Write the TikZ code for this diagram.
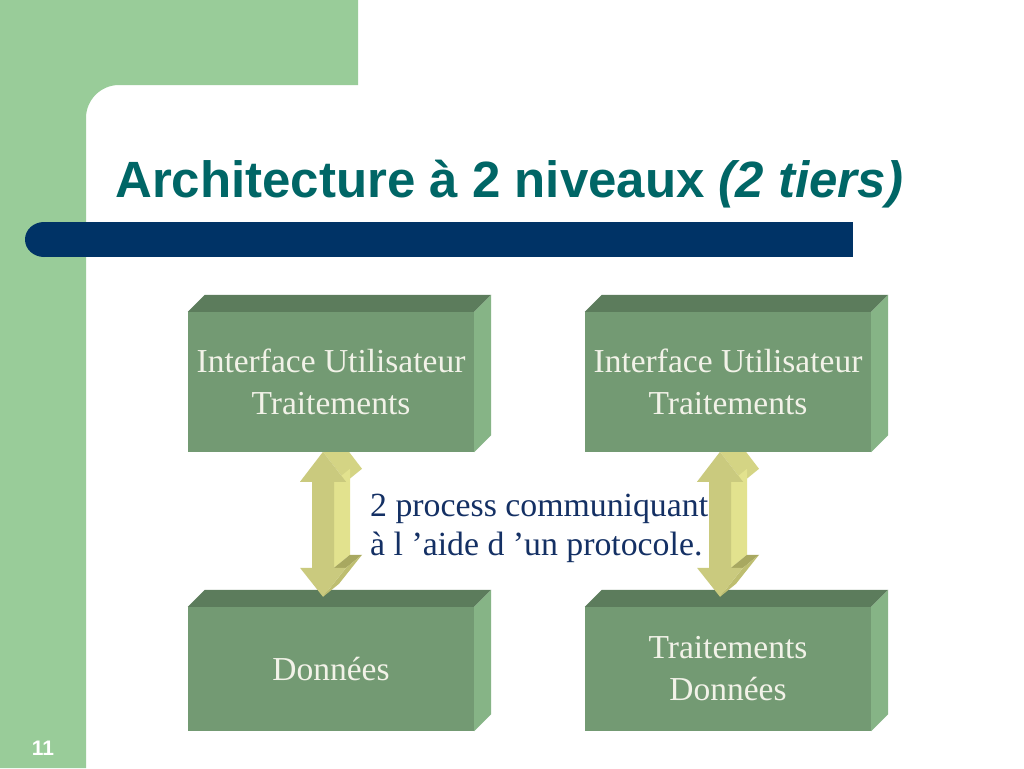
\documentclass[tikz,border=0pt]{standalone}
\usepackage{fontspec}
\setmainfont{Liberation Serif}
\newfontfamily\arialfont{Liberation Sans}
\usetikzlibrary{calc}
\definecolor{bggreen}{RGB}{153,204,153}
\definecolor{barblue}{RGB}{0,51,102}
\definecolor{titleteal}{RGB}{0,102,102}
\definecolor{boxfront}{RGB}{115,154,115}
\definecolor{boxtop}{RGB}{92,124,92}
\definecolor{boxside}{RGB}{134,180,134}
\definecolor{boxtext}{RGB}{242,242,232}
\definecolor{arrfront}{RGB}{202,202,126}
\definecolor{arrside}{RGB}{226,226,142}
\definecolor{arrtop}{RGB}{212,212,132}
\definecolor{arrunder}{RGB}{168,168,96}
\definecolor{arrslope}{RGB}{190,190,112}
\definecolor{notenavy}{RGB}{20,48,100}
\newcommand\cubefaces[1]{%
  \fill[boxtop] (#1.north west) -- ++(17,-17) -- ($(#1.north east)+(17,-17)$) -- (#1.north east) -- cycle;
  \fill[boxside] (#1.north east) -- ++(17,-17) -- ($(#1.south east)+(17,-17)$) -- (#1.south east) -- cycle;}
\newcommand\blockarrow[1]{%
  \begin{scope}[shift={($(#1.north)+(-8,-155)$)}]
    \fill[arrtop] (0,0) -- (23,30) -- (39,17) -- (16,-13) -- cycle;
    \fill[arrside] (11,30) -- (11,116) -- (27,103) -- (27,17) -- cycle;
    \fill[arrunder] (11,116) -- (23,116) -- (39,103) -- (27,103) -- cycle;
    \fill[arrslope] (23,116) -- (0,145) -- (16,132) -- (39,103) -- cycle;
    \fill[arrfront] (0,0) -- (23,30) -- (11,30) -- (11,116) -- (23,116) -- (0,145)
      -- (-23,116) -- (-11,116) -- (-11,30) -- (-23,30) -- cycle;
  \end{scope}}
\begin{document}
\begin{tikzpicture}[x=1pt,y=-1pt,
  cube/.style={fill=boxfront, text=boxtext, minimum width=286pt, inner sep=0pt,
    align=center, font=\fontsize{33.5}{42}\selectfont}]
\useasboundingbox (0,0) rectangle (1024,768);
\fill[white] (0,0) rectangle (1024,768);
\fill[bggreen] (0,0) -- (358,0) -- (358,85) -- (119,85)
  .. controls (100.8,85) and (86,99.8) .. (86,118) -- (86,768) -- (0,768) -- cycle;
\fill[barblue] (44,239.5) ellipse[x radius=19, y radius=17.5];
\fill[barblue] (44,222) rectangle (853,257);
\node[anchor=base west, text=titleteal, inner sep=0pt,
  font=\arialfont\bfseries\fontsize{51}{60}\selectfont] (title) at (115,197)
  {Architecture à 2 niveaux \textit{(2 tiers)}};
\node[anchor=base, text=white, inner sep=0pt,
  font=\arialfont\bfseries\fontsize{21}{24}\selectfont] (pagenum) at (43,755) {11};
% lower boxes
\node[cube, minimum height=124pt] (b3) at (331,669) {Données};
\cubefaces{b3}
\node[cube, minimum height=124pt] (b4) at (728,669) {Traitements\\Données};
\cubefaces{b4}
% arrows
\blockarrow{b3}
\blockarrow{b4}
% upper boxes
\node[cube, minimum height=140pt] (b1) at (331,382) {Interface Utilisateur\\Traitements};
\cubefaces{b1}
\node[cube, minimum height=140pt] (b2) at (728,382) {Interface Utilisateur\\Traitements};
\cubefaces{b2}
\node[anchor=west, text=notenavy, inner sep=0pt, align=left,
  font=\fontsize{33.8}{39}\selectfont] (note) at (370,528)
  {2 process communiquant\\à l ’aide d ’un protocole.};
\end{tikzpicture}
\end{document}
